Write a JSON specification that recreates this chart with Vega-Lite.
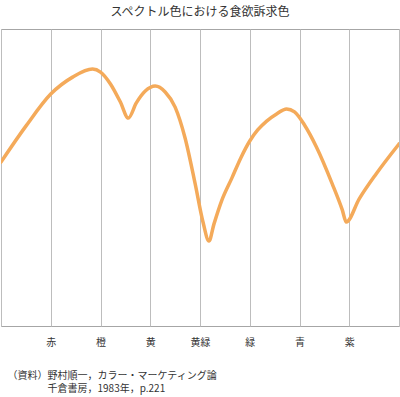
{
  "$schema": "https://vega.github.io/schema/vega-lite/v6.json",
  "width": 398,
  "height": 297,
  "autosize": "none",
  "padding": {"left": 1, "top": 29, "right": 1, "bottom": 71},
  "config": {
    "font": "Noto Sans CJK JP",
    "view": {"stroke": "#a6a6a6", "strokeWidth": 1}
  },
  "title": {
    "text": "スペクトル色における食欲訴求色",
    "fontSize": 12,
    "fontWeight": "normal",
    "color": "#333333",
    "anchor": "middle",
    "offset": 10
  },
  "data": {
    "values": [
      {"x": 0.0, "y": 55.2},
      {"x": 0.5, "y": 67.3},
      {"x": 1.0, "y": 78.1},
      {"x": 1.44, "y": 83.8},
      {"x": 1.84, "y": 86.5},
      {"x": 2.0, "y": 85.5},
      {"x": 2.2, "y": 81.5},
      {"x": 2.4, "y": 75.4},
      {"x": 2.56, "y": 70.0},
      {"x": 2.72, "y": 75.1},
      {"x": 2.9, "y": 79.1},
      {"x": 3.1, "y": 80.8},
      {"x": 3.3, "y": 78.8},
      {"x": 3.5, "y": 73.7},
      {"x": 3.7, "y": 63.3},
      {"x": 3.9, "y": 48.1},
      {"x": 4.06, "y": 35.0},
      {"x": 4.18, "y": 28.6},
      {"x": 4.28, "y": 34.3},
      {"x": 4.44, "y": 42.4},
      {"x": 4.64, "y": 49.8},
      {"x": 4.82, "y": 56.6},
      {"x": 5.0, "y": 62.3},
      {"x": 5.16, "y": 66.0},
      {"x": 5.34, "y": 69.0},
      {"x": 5.54, "y": 71.4},
      {"x": 5.74, "y": 73.1},
      {"x": 5.9, "y": 72.1},
      {"x": 6.1, "y": 67.7},
      {"x": 6.34, "y": 60.3},
      {"x": 6.66, "y": 47.8},
      {"x": 6.86, "y": 39.1},
      {"x": 6.94, "y": 35.0},
      {"x": 7.2, "y": 42.8},
      {"x": 7.54, "y": 51.2},
      {"x": 8.0, "y": 61.3}
    ]
  },
  "mark": {"type": "line", "interpolate": "monotone", "color": "#F4AA5A", "strokeWidth": 3.5, "strokeCap": "round", "clip": true},
  "encoding": {
    "x": {
      "field": "x",
      "type": "quantitative",
      "scale": {"domain": [0, 8], "nice": false, "zero": false},
      "axis": {
        "values": [0, 1, 2, 3, 4, 5, 6, 7, 8],
        "labelExpr": "['', '赤', '橙', '黄', '黄緑', '緑', '青', '紫', ''][datum.value]",
        "grid": true,
        "gridColor": "#bdbdbd",
        "gridWidth": 1,
        "gridOpacity": 1,
        "ticks": false,
        "domain": false,
        "labelFontSize": 10,
        "labelColor": "#333333",
        "labelPadding": 11,
        "labelFlush": false,
        "title": ["（資料）野村順一，カラー・マーケティング論", "\u200b\u3000\u3000\u3000\u3000千倉書房，1983年，p.221"],
        "titleFontSize": 10,
        "titleFontWeight": "normal",
        "titleColor": "#333333",
        "titleAnchor": "start",
        "titleAlign": "left",
        "titleBaseline": "top",
        "titleX": 6,
        "titleY": 44,
        "titleLineHeight": 13.5
      }
    },
    "y": {
      "field": "y",
      "type": "quantitative",
      "scale": {"domain": [0, 100], "nice": false},
      "axis": null
    }
  }
}
